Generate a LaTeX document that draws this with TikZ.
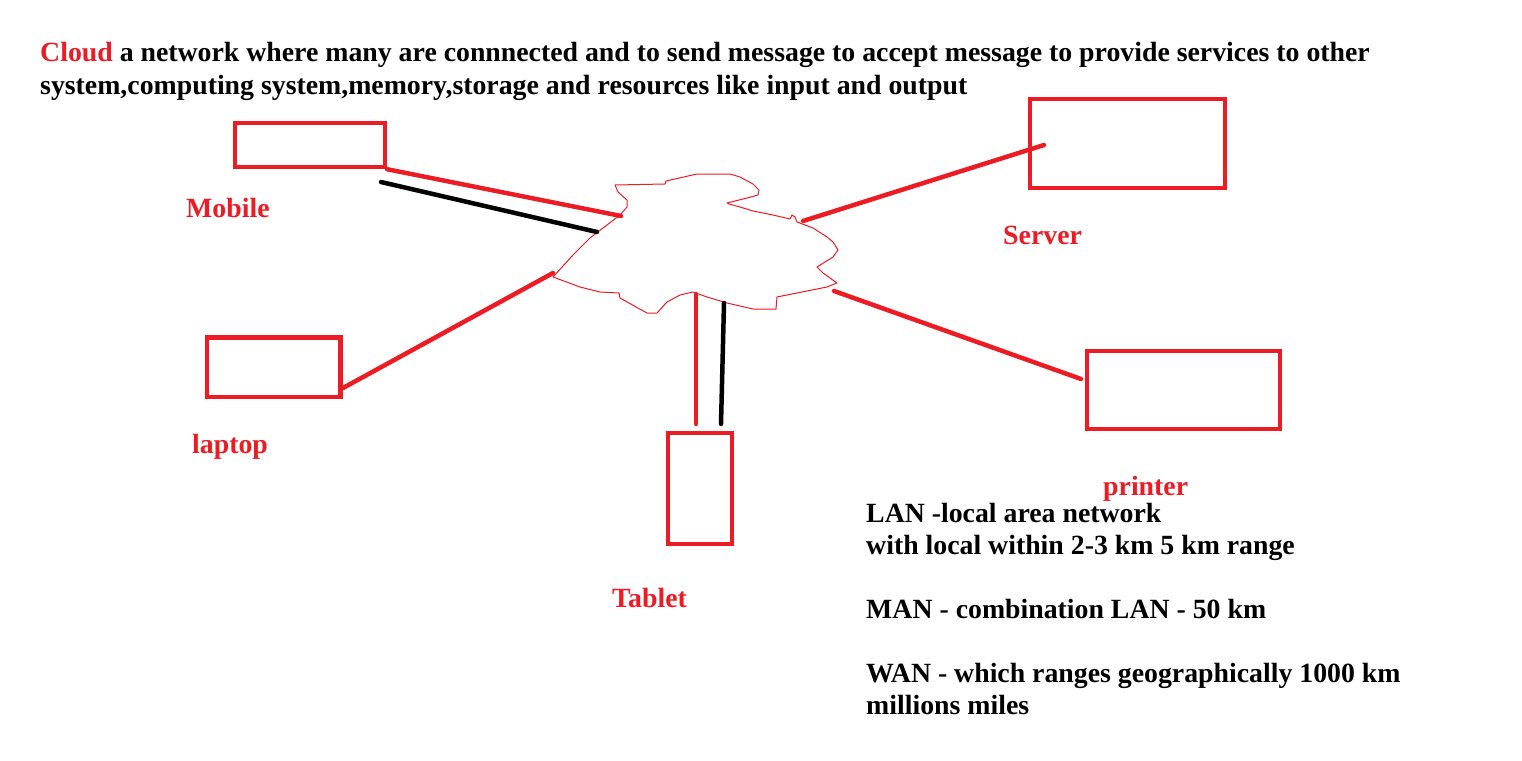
\documentclass[tikz,border=0pt]{standalone}
\usepackage{fontspec}
\setmainfont{Liberation Serif}
\definecolor{pred}{RGB}{237,28,36}
\tikzset{
  devbox/.style={draw=pred, line width=4.5pt, inner sep=0pt, minimum width=#1},
  conn/.style={draw=pred, line width=4.5pt, line cap=round},
  connb/.style={draw=black, line width=4.5pt, line cap=round},
  cloudline/.style={draw=pred, line width=1pt, line join=round},
  lbl/.style={text=pred, font=\bfseries\fontsize{27.8}{32}\selectfont, anchor=base west, inner sep=0pt},
  txt/.style={text=black, font=\bfseries\fontsize{27.8}{32}\selectfont, anchor=base west, inner sep=0pt}
}
\begin{document}
\begin{tikzpicture}[x=1pt, y=-1pt]
\useasboundingbox[fill=white] (0,0) rectangle (1522,760);

% title text
\node[txt] (t1) at (40,62) {\textcolor{pred}{Cloud} a network where many are connnected and to send message to accept message to provide services to other};
\node[txt] (t2) at (40,94) {system,computing system,memory,storage and resources like input and output};

% device boxes
\node[devbox=150pt, minimum height=44pt] (mobile) at (310,145) {};
\node[devbox=195pt, minimum height=89pt] (server) at (1127.5,143.5) {};
\node[devbox=133.5pt, minimum height=59.5pt] (laptop) at (273.8,367.3) {};
\node[devbox=193pt, minimum height=78pt] (printer) at (1183.5,390) {};
\node[devbox=64pt, minimum height=111pt] (tablet) at (700,488.5) {};

% labels
\node[lbl] (lmobile) at (186,217) {Mobile};
\node[lbl] (lserver) at (1003,244) {Server};
\node[lbl] (llaptop) at (192,453) {laptop};
\node[lbl] (lprinter) at (1103,495) {printer};
\node[lbl] (ltablet) at (612,607) {Tablet};

% cloud outline
\draw[cloudline] (615,185) -- (665,184) -- (666,181) -- (697,174) -- (730,174) -- (740,177)
  -- (753,184) -- (759,190) -- (758,195) -- (747,198) -- (727,203) -- (729,204) -- (740,207)
  -- (753,211) -- (773,215) -- (790,219) -- (792,215) -- (795,217) -- (797,222) -- (813,228)
  -- (827,237) -- (833,242) -- (838,250) -- (833,257) -- (817,267) -- (823,273) -- (837,283)
  -- (827,287) -- (777,297) -- (776,309) -- (753,309) -- (727,303) -- (707,297) -- (693,292)
  -- (680,295) -- (667,302) -- (657,313) -- (647,313) -- (620,298) -- (619,293) -- (600,292)
  -- (580,287) -- (553,277) -- (573,255) -- (590,238) -- (620,215) -- (627,207) -- (627,200)
  -- (618,192) -- cycle;

% connector end points
\coordinate (cMobR) at (621,216);
\coordinate (cMobB) at (597,232);
\coordinate (cLap) at (553,273);
\coordinate (cSrv) at (803,221);
\coordinate (cPrn) at (834,291);
\coordinate (cTabR) at (696,294);
\coordinate (cTabB) at (724,303);
\coordinate (mobB) at (381,182);
\coordinate (srvIn) at (1044,145);
\coordinate (lapE) at (343,388);
\coordinate (prnW) at (1081,379);
\coordinate (tabR) at (696,424);
\coordinate (tabB) at (721,424);

% connectors
\draw[conn] (mobile.south east) -- (cMobR);
\draw[connb] (mobB) -- (cMobB);
\draw[conn] (cSrv) -- (srvIn);
\draw[conn] (lapE) -- (cLap);
\draw[conn] (cPrn) -- (prnW);
\draw[conn] (cTabR) -- (tabR);
\draw[connb] (cTabB) -- (tabB);

% network types
\node[txt] (lan1) at (866,522) {LAN -local area network};
\node[txt] (lan2) at (866,554) {with local within 2-3 km 5 km range};
\node[txt] (man) at (866,618) {MAN - combination LAN - 50 km};
\node[txt] (wan1) at (866,682) {WAN - which ranges geographically 1000 km};
\node[txt] (wan2) at (866,714) {millions miles};
\end{tikzpicture}
\end{document}
